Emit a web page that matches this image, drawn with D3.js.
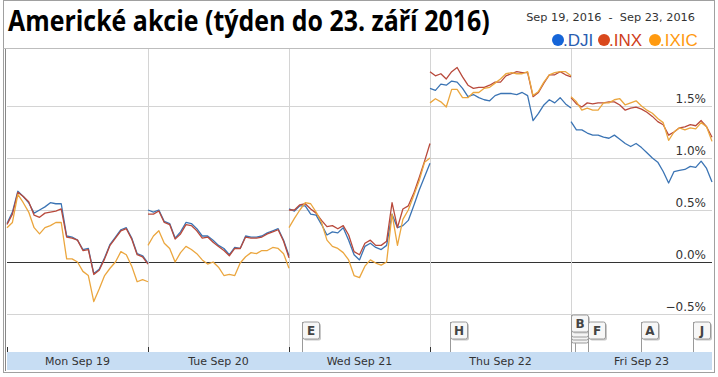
<!DOCTYPE html>
<html>
<head>
<meta charset="utf-8">
<title>Americké akcie</title>
<script src="https://d3js.org/d3.v7.min.js"></script>
<style>
  html, body { margin: 0; background: #fff; overflow: hidden; }
  svg { display: block; }
</style>
</head>
<body>
<div id="chart"></div>
<script>
// trading days and y ticks
const days = ["Mon Sep 19", "Tue Sep 20", "Wed Sep 21", "Thu Sep 22", "Fri Sep 23"];
const yTicks = [-0.5, 0, 0.5, 1.0, 1.5];
const stepMinutes = 15; // one value every 15 minutes, 9:30 to 16:00

// % change vs. previous week close, one row per day
const dji = [
  [0.37,0.48,0.68,0.63,0.57,0.47,0.50,0.53,0.57,0.56,0.56,0.25,0.24,0.21,0.12,0.13,-0.11,-0.07,0.04,0.17,0.24,0.31,0.33,0.23,0.08,0.06,-0.01],
  [0.50,0.48,0.50,0.39,0.37,0.23,0.29,0.38,0.37,0.32,0.25,0.25,0.21,0.16,0.13,0.07,0.14,0.13,0.25,0.24,0.24,0.25,0.28,0.30,0.32,0.21,0.06],
  [0.51,0.49,0.54,0.54,0.46,0.45,0.36,0.26,0.29,0.28,0.33,0.21,0.07,0.02,0.15,0.18,0.14,0.12,0.16,0.46,0.33,0.35,0.40,0.54,0.69,0.82,0.95],
  [1.67,1.65,1.71,1.70,1.74,1.73,1.67,1.59,1.61,1.58,1.56,1.55,1.60,1.62,1.62,1.62,1.61,1.63,1.60,1.36,1.43,1.51,1.56,1.53,1.58,1.52,1.48],
  [1.35,1.27,1.27,1.24,1.22,1.22,1.20,1.19,1.22,1.18,1.14,1.11,1.14,1.10,1.05,1.00,0.96,0.87,0.76,0.87,0.88,0.89,0.92,0.91,0.97,0.90,0.77]
];
const inx = [
  [0.36,0.46,0.67,0.63,0.58,0.45,0.43,0.47,0.48,0.49,0.51,0.24,0.23,0.21,0.11,0.12,-0.12,-0.08,0.03,0.16,0.23,0.30,0.32,0.22,0.07,0.05,-0.02],
  [0.46,0.46,0.49,0.38,0.36,0.22,0.27,0.36,0.35,0.30,0.23,0.24,0.19,0.15,0.11,0.06,0.13,0.13,0.24,0.23,0.23,0.24,0.27,0.29,0.31,0.20,0.04],
  [0.50,0.50,0.55,0.56,0.51,0.47,0.40,0.34,0.35,0.32,0.35,0.26,0.10,0.07,0.18,0.21,0.16,0.16,0.20,0.57,0.33,0.51,0.54,0.66,0.81,0.97,1.14],
  [1.83,1.79,1.81,1.76,1.83,1.87,1.78,1.70,1.67,1.68,1.68,1.70,1.73,1.73,1.79,1.81,1.83,1.82,1.82,1.59,1.63,1.72,1.80,1.80,1.83,1.80,1.78],
  [1.58,1.52,1.49,1.53,1.52,1.53,1.53,1.54,1.54,1.51,1.46,1.48,1.49,1.47,1.44,1.40,1.35,1.32,1.22,1.25,1.29,1.30,1.32,1.31,1.36,1.30,1.20]
];
const ixic = [
  [0.33,0.38,0.65,0.57,0.48,0.33,0.27,0.33,0.35,0.38,0.38,0.03,0.03,0.00,-0.09,-0.13,-0.38,-0.26,-0.13,-0.06,0.00,0.10,0.07,-0.04,-0.19,-0.17,-0.19],
  [0.16,0.25,0.30,0.18,0.13,0.00,0.09,0.15,0.12,0.08,0.02,-0.02,0.00,-0.05,-0.13,-0.12,-0.13,-0.01,0.05,0.09,0.08,0.11,0.11,0.14,0.13,0.08,-0.06],
  [0.33,0.42,0.50,0.57,0.56,0.48,0.38,0.21,0.15,0.13,0.09,0.02,-0.13,-0.15,-0.04,0.02,-0.01,-0.03,0.00,0.46,0.16,0.41,0.50,0.64,0.78,0.96,1.00],
  [1.53,1.57,1.54,1.49,1.66,1.66,1.58,1.58,1.63,1.63,1.67,1.68,1.72,1.76,1.81,1.82,1.81,1.81,1.83,1.60,1.64,1.73,1.80,1.82,1.83,1.83,1.79],
  [1.59,1.54,1.46,1.48,1.46,1.46,1.53,1.53,1.56,1.57,1.51,1.53,1.55,1.50,1.46,1.43,1.38,1.34,1.17,1.25,1.29,1.27,1.29,1.28,1.34,1.30,1.16]
];

// news flags: day index + minutes after the open
const flagLabels = ["E", "H", "B", "F", "A", "J"];
const flagDay = [2, 3, 4, 4, 4, 4];
const flagMinute = [36, 55, 0, 47, 194, 337];

const W = 718, H = 377;
const plot = {left: 7, right: 712, top: 49, bottom: 352};
const dayLen = 390;

const svg = d3.select("#chart").append("svg")
  .attr("width", W).attr("height", H);

// scales
const x = d3.scaleLinear()
  .domain([0, days.length * dayLen])
  .range([plot.left, plot.right]);
const y = d3.scaleLinear()
  .domain([-0.5, 1.5])
  .range([314, 106]);

// outer frame
svg.append("rect")
  .attr("x", 3.5).attr("y", 0.5)
  .attr("width", 711).attr("height", 372)
  .attr("fill", "#fff").attr("stroke", "#a0a0a0");

// title, squeezed horizontally to the reference width
const title = svg.append("text")
  .attr("x", 0).attr("y", 0)
  .attr("font-family", "'Liberation Sans Narrow', 'Open Sans', sans-serif")
  .attr("font-weight", 700)
  .attr("font-size", 28)
  .attr("fill", "#000")
  .text("Americké akcie (týden do 23. září 2016)");
const natural = title.node().getComputedTextLength();
title.attr("transform", `translate(8,31) scale(${482 / natural},1)`);

// date range
svg.append("text")
  .attr("x", 695).attr("y", 21)
  .attr("text-anchor", "end")
  .attr("font-family", "'DejaVu Sans', sans-serif")
  .attr("font-size", 11.3)
  .attr("fill", "#333")
  .attr("xml:space", "preserve")
  .text("Sep 19, 2016  -  Sep 23, 2016");

// legend
const legendItems = [
  {name: ".DJI", dot: "#1565d8", text: "#2a5db0", x: 558},
  {name: ".INX", dot: "#d9481c", text: "#d0401a", x: 604},
  {name: ".IXIC", dot: "#ff9a10", text: "#ff9a10", x: 655}
];
const legend = svg.append("g");
legendItems.forEach(d => {
  legend.append("circle")
    .attr("cx", d.x).attr("cy", 40).attr("r", 6)
    .attr("fill", d.dot);
  legend.append("text")
    .attr("x", d.x + 5).attr("y", 46)
    .attr("font-family", "'Liberation Sans Narrow', 'Liberation Sans', sans-serif")
    .attr("font-size", 17)
    .attr("fill", d.text)
    .text(d.name);
});

// header separator
svg.append("line")
  .attr("x1", 3.5).attr("x2", 714.5)
  .attr("y1", plot.top - 0.5).attr("y2", plot.top - 0.5)
  .attr("stroke", "#bdbdbd");

// horizontal grid
svg.append("g")
  .selectAll("line")
  .data(yTicks)
  .join("line")
  .attr("x1", plot.left).attr("x2", plot.right)
  .attr("y1", d => Math.round(y(d)) + 0.5)
  .attr("y2", d => Math.round(y(d)) + 0.5)
  .attr("stroke", d => d === 0 ? "#333" : "#d4d4d4")
  .attr("stroke-width", d => d === 0 ? 1.2 : 1);

// day separators
svg.append("g")
  .selectAll("line")
  .data(d3.range(1, days.length))
  .join("line")
  .attr("x1", d => Math.round(x(d * dayLen)) + 0.5)
  .attr("x2", d => Math.round(x(d * dayLen)) + 0.5)
  .attr("y1", plot.top).attr("y2", plot.bottom)
  .attr("stroke", "#d4d4d4");

// y labels
svg.append("g")
  .selectAll("text")
  .data(yTicks)
  .join("text")
  .attr("x", 706)
  .attr("y", d => y(d) - 3)
  .attr("text-anchor", "end")
  .attr("font-family", "'DejaVu Sans', sans-serif")
  .attr("font-size", 12)
  .attr("fill", "#333")
  .text(d => d3.format(".1f")(d) + "%");

// lines, one path per series per day
const line = d3.line()
  .x(d => x(d.t))
  .y(d => y(d.v));

const series = [
  {key: "DJI", data: dji, color: "#3b74b4"},
  {key: "INX", data: inx, color: "#b8493b"},
  {key: "IXIC", data: ixic, color: "#eba63e"}
];

series.forEach(s => {
  const g = svg.append("g").attr("class", "series-" + s.key);
  s.data.forEach((dayVals, di) => {
    const pts = dayVals.map((v, i) => ({t: di * dayLen + i * stepMinutes, v: v}));
    g.append("path")
      .datum(pts)
      .attr("fill", "none")
      .attr("stroke", s.color)
      .attr("stroke-width", 1.3)
      .attr("stroke-linejoin", "round")
      .attr("d", line);
  });
});

// left plot edge
svg.append("line")
  .attr("x1", 5.5).attr("x2", 5.5)
  .attr("y1", plot.top).attr("y2", 371)
  .attr("stroke", "#888");

// x axis band
svg.append("rect")
  .attr("x", plot.left).attr("y", plot.bottom)
  .attr("width", plot.right - plot.left).attr("height", 18)
  .attr("fill", "#c7ddf3");

// ticks at day boundaries
svg.append("g")
  .selectAll("line")
  .data(d3.range(0, days.length))
  .join("line")
  .attr("x1", d => Math.round(x(d * dayLen)) + 0.5)
  .attr("x2", d => Math.round(x(d * dayLen)) + 0.5)
  .attr("y1", plot.bottom - 5).attr("y2", plot.bottom)
  .attr("stroke", "#333");

svg.append("g")
  .selectAll("text")
  .data(days)
  .join("text")
  .attr("x", (d, i) => x(i * dayLen + dayLen / 2))
  .attr("y", plot.bottom + 13)
  .attr("text-anchor", "middle")
  .attr("font-family", "'DejaVu Sans', sans-serif")
  .attr("font-size", 11)
  .attr("fill", "#333")
  .text(d => d);

// news flags
const flags = flagLabels.map((l, i) => ({
  label: l,
  xp: Math.round(x(flagDay[i] * dayLen + flagMinute[i])) + 0.5,
  top: l === "B" ? 315 : 322
}));

const fg = svg.append("g");
// stacked flags behind B
flags.filter(f => f.label === "B").forEach(f => {
  [8, 5, 2].forEach(off => {
    fg.append("rect")
      .attr("x", f.xp).attr("y", f.top + off + 8)
      .attr("width", 17).attr("height", 12)
      .attr("rx", 2)
      .attr("fill", "#f4f4f4").attr("stroke", "#9a9a9a");
  });
  fg.append("line")
    .attr("x1", f.xp + 4).attr("x2", f.xp + 4)
    .attr("y1", f.top + 28).attr("y2", plot.bottom)
    .attr("stroke", "#9a9a9a");
});
flags.forEach(f => {
  fg.append("line")
    .attr("x1", f.xp).attr("x2", f.xp)
    .attr("y1", f.top).attr("y2", plot.bottom)
    .attr("stroke", "#9a9a9a");
  fg.append("rect")
    .attr("x", f.xp + 1.5).attr("y", f.top + 1.5)
    .attr("width", 17).attr("height", 17)
    .attr("rx", 2)
    .attr("fill", "#c8c8c8");
  fg.append("rect")
    .attr("x", f.xp).attr("y", f.top)
    .attr("width", 17).attr("height", 17)
    .attr("rx", 2)
    .attr("fill", "#f7f7f7").attr("stroke", "#9a9a9a");
  fg.append("text")
    .attr("x", f.xp + 8.5).attr("y", f.top + 13)
    .attr("text-anchor", "middle")
    .attr("font-family", "'DejaVu Sans', sans-serif")
    .attr("font-weight", 700)
    .attr("font-size", 12)
    .attr("fill", "#444")
    .text(f.label);
});
</script>
</body>
</html>
